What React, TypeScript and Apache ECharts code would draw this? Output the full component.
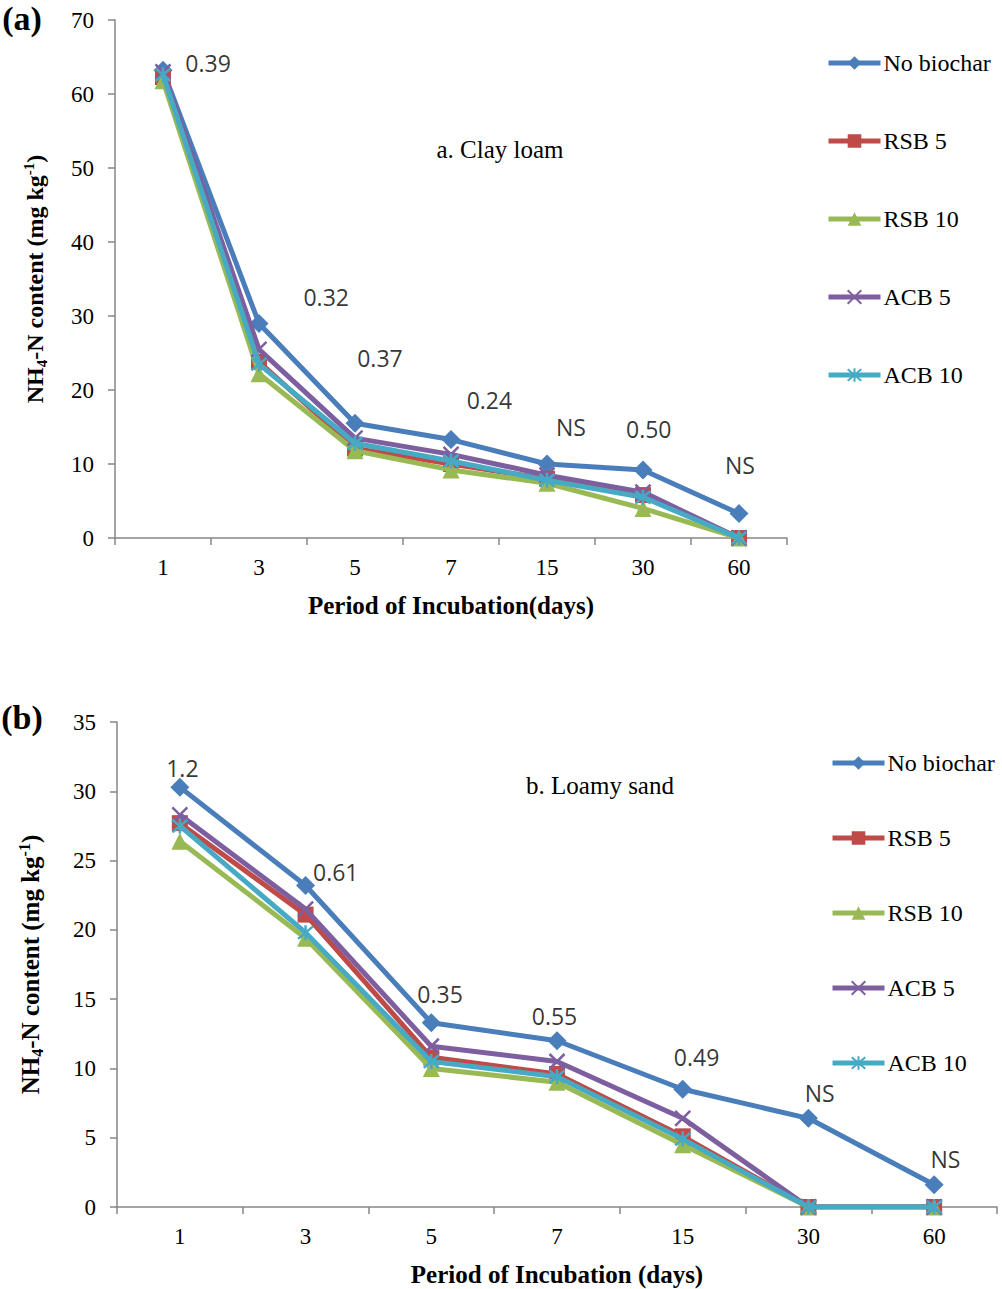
import React, { useEffect, useRef } from "react";
import * as echarts from "echarts";

// ---------- data ----------
const days = ["1", "3", "5", "7", "15", "30", "60"];
const seriesNames = ["No biochar", "RSB 5", "RSB 10", "ACB 5", "ACB 10"];

// (a) Clay loam
const clayNoBiochar = [63.2, 29.0, 15.5, 13.3, 10.0, 9.2, 3.3];
const clayRSB5 = [62.3, 23.8, 12.1, 10.0, 8.0, 5.8, 0];
const clayRSB10 = [61.8, 22.2, 11.8, 9.2, 7.4, 4.0, 0];
const clayACB5 = [63.0, 25.5, 13.5, 11.3, 8.5, 6.2, 0];
const clayACB10 = [62.6, 23.5, 12.8, 10.4, 7.8, 5.5, 0];

// (b) Loamy sand
const sandNoBiochar = [30.3, 23.2, 13.3, 12.0, 8.5, 6.4, 1.6];
const sandRSB5 = [27.7, 21.1, 10.8, 9.6, 5.1, 0, 0];
const sandRSB10 = [26.4, 19.4, 10.0, 9.0, 4.5, 0, 0];
const sandACB5 = [28.3, 21.5, 11.6, 10.5, 6.4, 0, 0];
const sandACB10 = [27.5, 19.8, 10.5, 9.4, 4.9, 0, 0];

// LSD annotations (text, x in category units, y in data units)
const clayNotes = ["0.39", "0.32", "0.37", "0.24", "NS", "0.50", "NS"];
const clayNoteX = [0.47, 1.7, 2.26, 3.4, 4.25, 5.06, 6.01];
const clayNoteY = [64.2, 32.6, 24.3, 18.6, 15.0, 14.7, 9.9];
const sandNotes = ["1.2", "0.61", "0.35", "0.55", "0.49", "NS", "NS"];
const sandNoteX = [0.02, 1.24, 2.07, 2.98, 4.11, 5.09, 6.09];
const sandNoteY = [31.7, 24.2, 15.4, 13.8, 10.8, 8.2, 3.5];

// ---------- styles ----------
const colors = ["#4A7EBB", "#BE4B48", "#98B954", "#7D5FA0", "#46AAC5"];
const symbols = [
  "diamond",
  "rect",
  "triangle",
  "path://M0,0L10,10M10,0L0,10",
  "path://M0,0L10,10M10,0L0,10M5,-1L5,11",
];
const symbolSizes = [19, 16, 17, 15, 15];
const SERIF = "Liberation Serif";
const SANS = "Open Sans";
const AXIS_GREY = "#868686";

function lineSeries(values: number[][], axisIndex: number) {
  return values.map((vals, i) => {
    const stroked = i >= 3;
    return {
      name: seriesNames[i],
      type: "line",
      xAxisIndex: axisIndex * 2,
      yAxisIndex: axisIndex,
      data: vals,
      symbol: symbols[i],
      symbolSize: symbolSizes[i],
      showAllSymbol: true,
      lineStyle: { color: colors[i], width: 5 },
      itemStyle: stroked
        ? { color: colors[i], borderColor: colors[i], borderWidth: 2.5 }
        : { color: colors[i], borderWidth: 0 },
      emphasis: { disabled: true },
      z: 2 + i,
    };
  });
}

function noteSeries(texts: string[], xs: number[], ys: number[], axisIndex: number) {
  return {
    type: "scatter",
    xAxisIndex: axisIndex * 2 + 1,
    yAxisIndex: axisIndex,
    symbolSize: 0,
    silent: true,
    z: 10,
    data: texts.map((t, i) => ({ name: t, value: [xs[i], ys[i]] })),
    label: {
      show: true,
      position: "inside",
      formatter: "{b}",
      color: "#000",
      fontFamily: SANS,
      fontSize: 23,
    },
  };
}

function yName() {
  return "{b|NH}{sub|4}{b|-N content (mg kg}{sup|-1}{b|)}";
}

function yNameStyle(size: number) {
  const base = { fontFamily: SERIF, fontWeight: "bold", fontSize: size, color: "#000" };
  const small = Math.round(size * 0.62);
  return {
    ...base,
    rich: {
      b: { ...base, lineHeight: size + 4 },
      sub: { ...base, fontSize: small, lineHeight: size + 4, verticalAlign: "bottom" },
      sup: { ...base, fontSize: small, lineHeight: size + 4, verticalAlign: "top" },
    },
  };
}

function catAxis(gridIndex: number, title: string) {
  return {
    type: "category",
    gridIndex,
    data: days,
    boundaryGap: true,
    axisLine: { show: true, onZero: false, lineStyle: { color: AXIS_GREY, width: 1.5 } },
    axisTick: { show: true, length: 7, interval: 0, lineStyle: { color: AXIS_GREY, width: 1.5 } },
    axisLabel: { color: "#000", fontFamily: SERIF, fontSize: 23, margin: 18, interval: 0 },
    splitLine: { show: false },
    name: title,
    nameLocation: "middle",
    nameGap: 55,
    nameTextStyle: { fontFamily: SERIF, fontWeight: "bold", fontSize: 25, color: "#000" },
  };
}

function noteAxis(gridIndex: number) {
  return { type: "value", gridIndex, min: -0.5, max: 6.5, show: false };
}

function valAxis(gridIndex: number, max: number, interval: number, gap: number, size: number) {
  return {
    type: "value",
    gridIndex,
    min: 0,
    max,
    interval,
    axisLine: { show: true, onZero: false, lineStyle: { color: AXIS_GREY, width: 1.5 } },
    axisTick: { show: true, length: 7, lineStyle: { color: AXIS_GREY, width: 1.5 } },
    axisLabel: { color: "#000", fontFamily: SERIF, fontSize: 23, margin: 21 },
    splitLine: { show: false },
    name: yName(),
    nameLocation: "middle",
    nameRotate: 90,
    nameGap: gap,
    nameTextStyle: yNameStyle(size),
  };
}

function legend(left: number, top: number, gap: number) {
  return {
    data: seriesNames,
    orient: "vertical",
    left,
    top,
    padding: 0,
    itemWidth: 52,
    itemHeight: 17,
    itemGap: gap,
    selectedMode: false,
    lineStyle: { width: 5 },
    textStyle: { fontFamily: SERIF, fontSize: 24, color: "#000", lineHeight: 26, padding: [0, 0, 0, -2] },
  };
}

export default function App() {
  const ref = useRef<HTMLDivElement>(null);
  useEffect(() => {
    if (!ref.current) return;
    const chart = echarts.init(ref.current, undefined, { renderer: "svg" });
    const option = {
      animation: false,
      backgroundColor: "#fff",
      textStyle: { fontFamily: SERIF },
      grid: [
        { left: 115, top: 20, width: 672, height: 518 },
        { left: 117, top: 722, width: 880, height: 485 },
      ],
      xAxis: [
        catAxis(0, "Period of Incubation(days)"),
        noteAxis(0),
        catAxis(1, "Period of Incubation (days)"),
        noteAxis(1),
      ],
      yAxis: [valAxis(0, 70, 10, 66, 24), valAxis(1, 35, 5, 72, 25)],
      legend: [legend(826, 50, 52), legend(830, 750, 49)],
      series: [
        ...lineSeries([clayNoBiochar, clayRSB5, clayRSB10, clayACB5, clayACB10], 0),
        ...lineSeries([sandNoBiochar, sandRSB5, sandRSB10, sandACB5, sandACB10], 1),
        noteSeries(clayNotes, clayNoteX, clayNoteY, 0),
        noteSeries(sandNotes, sandNoteX, sandNoteY, 1),
      ],
      graphic: [
        {
          type: "text",
          x: 22,
          y: 18,
          style: { text: "(a)", font: `bold 34px ${SERIF}`, fill: "#000", align: "center", verticalAlign: "middle" },
        },
        {
          type: "text",
          x: 22,
          y: 717,
          style: { text: "(b)", font: `bold 34px ${SERIF}`, fill: "#000", align: "center", verticalAlign: "middle" },
        },
        {
          type: "text",
          x: 500,
          y: 149,
          style: { text: "a. Clay loam", font: `25px ${SERIF}`, fill: "#000", align: "center", verticalAlign: "middle" },
        },
        {
          type: "text",
          x: 600,
          y: 785,
          style: { text: "b. Loamy sand", font: `25px ${SERIF}`, fill: "#000", align: "center", verticalAlign: "middle" },
        },
      ],
    };
    chart.setOption(option as any);
    return () => chart.dispose();
  }, []);
  return (
    <div
      ref={ref}
      style={{ position: "fixed", left: 0, top: 0, width: 1002, height: 1289, background: "#fff" }}
    />
  );
}
